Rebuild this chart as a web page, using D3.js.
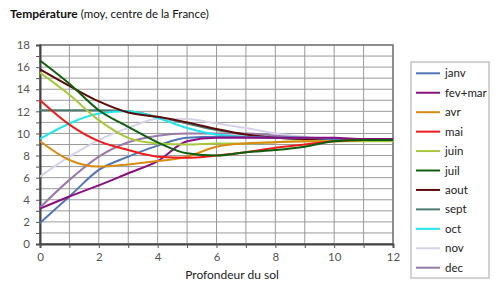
<!DOCTYPE html>
<html><head><meta charset="utf-8">
<script src="https://cdn.jsdelivr.net/npm/d3@7"></script>
<style>body{margin:0;background:#fff}svg{display:block;font-family:Lato,"Open Sans",sans-serif}</style>
</head><body><svg id="c" width="500" height="289"></svg>
<script>
const depths = [0,1,2,3,4,5,6,7,8,9,10,11,12];
const months = ["janv","fev+mar","avr","mai","juin","juil","aout","sept","oct","nov","dec"];
const colors = ["#4f77b5","#8a0f80","#d98c14","#ee1c1c","#a8c83c","#0e5e0e","#5c0a0a","#4a7a72","#22e6ea","#d6d2e8","#9a7aa8"];
const janv   = [1.9,4.3,6.7,7.9,8.9,9.6,9.7,9.7,9.6,9.6,9.5,9.5,9.5];
const fevmar = [3.2,4.3,5.3,6.4,7.5,9.3,9.6,9.6,9.6,9.6,9.6,9.5,9.5];
const avr    = [9.3,7.6,7.0,7.2,7.5,7.9,8.8,9.1,9.2,9.3,9.3,9.4,9.4];
const mai    = [13.0,10.8,9.3,8.5,7.9,7.8,8.0,8.3,8.7,9.0,9.3,9.4,9.4];
const juin   = [15.5,13.5,11.2,9.6,9.1,9.0,9.1,9.1,9.2,9.3,9.3,9.3,9.3];
const juil   = [16.6,14.5,12.1,10.6,9.2,8.2,8.0,8.3,8.5,8.8,9.3,9.4,9.4];
const aout   = [15.8,14.3,12.9,11.9,11.5,11.0,10.4,9.9,9.6,9.5,9.5,9.4,9.4];
const sept   = [12.1,12.1,12.1,12.0,11.5,10.9,10.3,9.9,9.6,9.5,9.5,9.4,9.4];
const oct    = [9.5,10.9,11.8,12.0,11.4,10.5,9.9,9.7,9.6,9.6,9.5,9.5,9.5];
const nov    = [6.1,7.9,9.4,10.5,11.3,11.3,10.9,10.5,10.0,9.7,9.5,9.5,9.5];
const dec    = [3.3,5.8,7.9,9.2,9.8,10.0,10.0,10.0,9.8,9.6,9.5,9.5,9.5];
const seriesValues = [janv,fevmar,avr,mai,juin,juil,aout,sept,oct,nov,dec];
const yTicks = [0,2,4,6,8,10,12,14,16,18];
const xTicks = [0,2,4,6,8,10,12];

const svg = d3.select("#c");
const L=40,R=393,T=45,B=244;
const x = d3.scaleLinear().domain([0,12]).range([L,R]);
const y = d3.scaleLinear().domain([0,18]).range([B,T]);

// grid
const g = svg.append("g");
g.selectAll(".h").data(d3.range(0,19)).join("line")
  .attr("x1",L).attr("x2",R).attr("y1",d=>y(d)).attr("y2",d=>y(d))
  .attr("stroke","#9a9a9a").attr("stroke-width",1);
g.selectAll(".v").data(d3.range(0,13)).join("line")
  .attr("y1",T).attr("y2",B).attr("x1",d=>x(d)).attr("x2",d=>x(d))
  .attr("stroke","#9a9a9a").attr("stroke-width",1);
// border
svg.append("rect").attr("x",L).attr("y",T).attr("width",R-L).attr("height",B-T)
  .attr("fill","none").attr("stroke","#777").attr("stroke-width",1.5);

// axes
const ya = svg.append("g").attr("transform",`translate(${L},0)`)
  .call(d3.axisLeft(y).tickValues(d3.range(0,19)).tickSize(4).tickFormat(d=>yTicks.includes(d)?d:""));
const xa = svg.append("g").attr("transform",`translate(0,${B})`)
  .call(d3.axisBottom(x).tickValues(d3.range(0,13)).tickSize(4).tickFormat(d=>xTicks.includes(d)?d:""));
[ya,xa].forEach(a=>{
  a.select(".domain").attr("stroke","#444").attr("stroke-width",2);
  a.selectAll(".tick line").attr("stroke","#555");
  a.selectAll("text").attr("fill","#555").attr("font-size",11.5).attr("font-family","Lato,sans-serif");
});
ya.selectAll("text").attr("x",-10);
xa.selectAll("text").attr("y",9);

// lines
const line = d3.line().x((d,i)=>x(depths[i])).y(d=>y(d)).curve(d3.curveMonotoneX);
const order = [7,9,10,8,6,0,1,4,2,3,5];
svg.append("g").selectAll("path").data(order).join("path")
  .attr("d",i=>line(seriesValues[i])).attr("fill","none")
  .attr("stroke",i=>colors[i]).attr("stroke-width",2);

// x title
svg.append("text").attr("x",232).attr("y",279).attr("text-anchor","middle")
  .attr("font-size",12).attr("fill","#222").text("Profondeur du sol");

// title
const t = svg.append("text").attr("x",10).attr("y",18).attr("font-size",12).attr("fill","#111");
t.append("tspan").attr("font-weight","bold").text("Température");
t.append("tspan").attr("font-size",11.5).text(" (moy, centre de la France)");

// legend
const lg = svg.append("g");
lg.append("rect").attr("x",411).attr("y",62).attr("width",78).attr("height",216)
  .attr("fill","#fff").attr("stroke","#c4c4c4").attr("stroke-width",1.5);
const it = lg.selectAll(".it").data(months).join("g")
  .attr("transform",(d,i)=>`translate(0,${73.3+i*19.44})`);
it.append("line").attr("x1",416).attr("x2",440).attr("stroke",(d,i)=>colors[i]).attr("stroke-width",2);
it.append("text").attr("x",445).attr("dy","0.35em").attr("font-size",11.5).attr("fill","#222").text(d=>d);
</script></body></html>
